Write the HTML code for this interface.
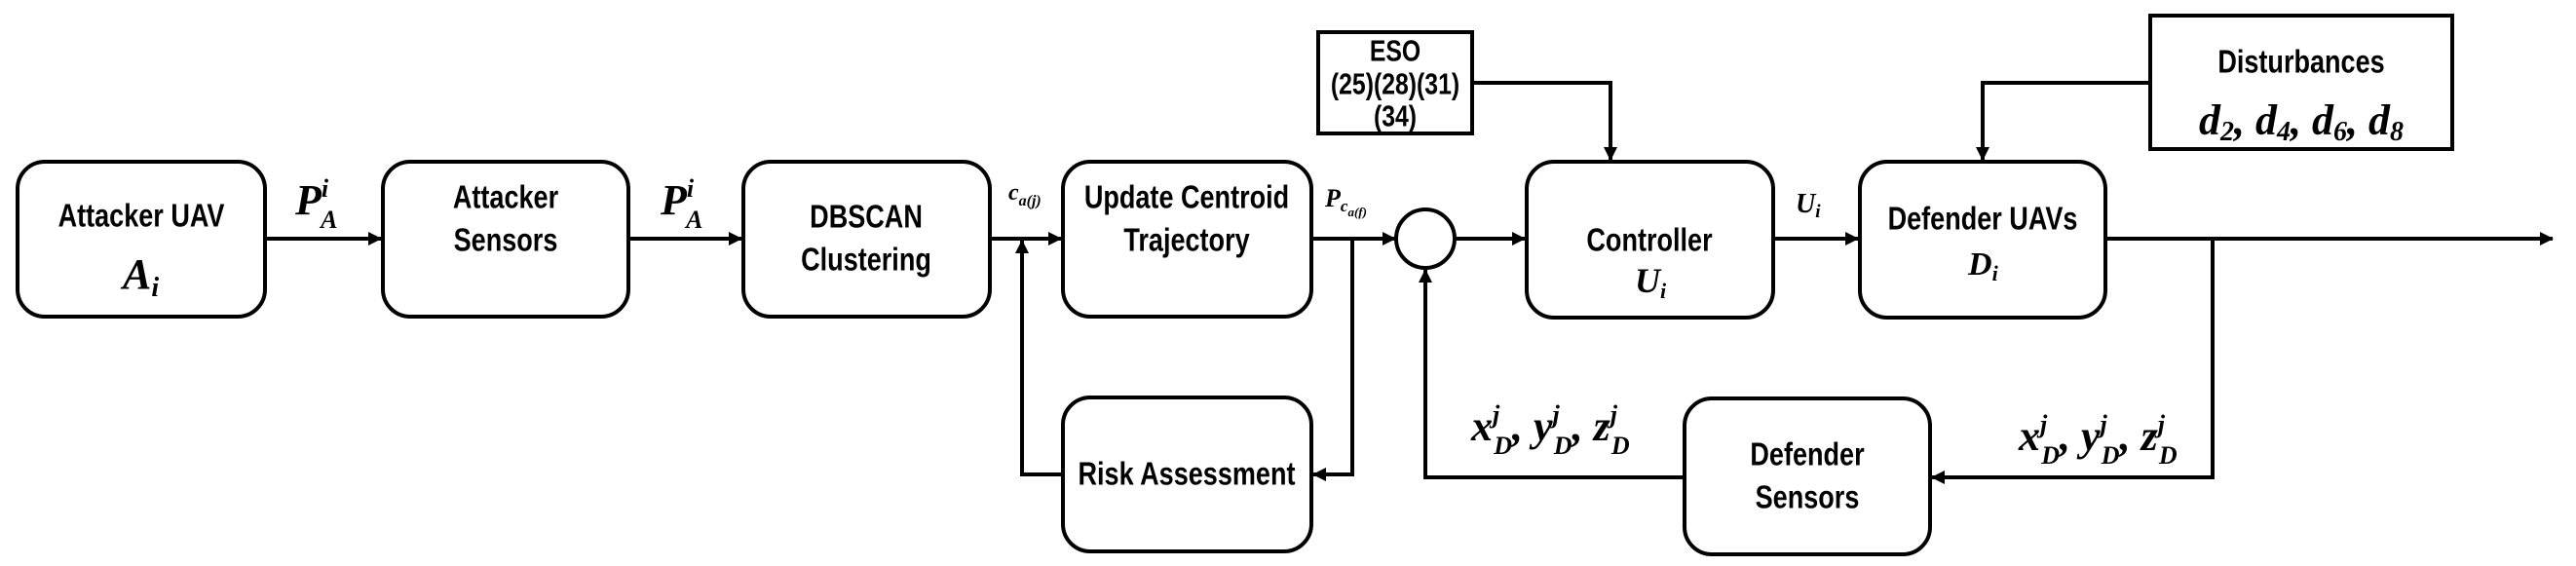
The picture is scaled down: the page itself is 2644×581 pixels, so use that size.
<!DOCTYPE html>
<html><head><meta charset="utf-8"><style>
html,body{margin:0;padding:0;background:#fff;}
svg{display:block}
.t{font-family:"Liberation Sans",sans-serif;font-weight:bold;font-size:33px;fill:#000;text-anchor:middle;dominant-baseline:central}
.e{font-size:31px}
.m{font-family:"Liberation Serif",serif;font-style:italic;font-weight:bold;fill:#000}
</style></head><body>
<svg width="2644" height="581" viewBox="0 0 2644 581" xmlns="http://www.w3.org/2000/svg">
<defs><marker id="a" markerWidth="14" markerHeight="14" refX="13" refY="7" orient="auto" markerUnits="userSpaceOnUse"><path d="M0,0 L14,7 L0,14 z" fill="#000"/></marker></defs>
<g fill="none" stroke="#000" stroke-width="4">
<rect x="18" y="166" width="254" height="159" rx="28"/>
<rect x="393" y="166" width="252" height="159" rx="28"/>
<rect x="763" y="166" width="253" height="159" rx="28"/>
<rect x="1091" y="166" width="255" height="159" rx="28"/>
<rect x="1091" y="408" width="255" height="158" rx="28"/>
<rect x="1567" y="166" width="253" height="160" rx="28"/>
<rect x="1909" y="166" width="252" height="160" rx="28"/>
<rect x="1729" y="409" width="252" height="160" rx="28"/>
<rect x="1353" y="33" width="158" height="104"/>
<rect x="2207" y="16" width="310" height="137"/>
<circle cx="1463" cy="245" r="30"/>
</g>
<g fill="none" stroke="#000" stroke-width="4">
<line x1="272" y1="245" x2="391" y2="245" marker-end="url(#a)"/>
<line x1="645" y1="245" x2="761" y2="245" marker-end="url(#a)"/>
<line x1="1016" y1="245" x2="1089" y2="245" marker-end="url(#a)"/>
<polyline points="1091,487 1049,487 1049,247" marker-end="url(#a)"/>
<line x1="1346" y1="245" x2="1432" y2="245" marker-end="url(#a)"/>
<polyline points="1388,245 1388,487 1348,487" marker-end="url(#a)"/>
<line x1="1493" y1="245" x2="1565" y2="245" marker-end="url(#a)"/>
<line x1="1820" y1="245" x2="1907" y2="245" marker-end="url(#a)"/>
<line x1="2161" y1="245" x2="2620" y2="245" marker-end="url(#a)"/>
<polyline points="1511,85 1653,85 1653,164" marker-end="url(#a)"/>
<polyline points="2207,85 2035,85 2035,164" marker-end="url(#a)"/>
<polyline points="2271,245 2271,490 1983,490" marker-end="url(#a)"/>
<polyline points="1729,490 1463,490 1463,277" marker-end="url(#a)"/>
</g>
<g transform="translate(145,222) scale(.82,1)"><text class="t">Attacker UAV</text></g>
<text class="m" x="126" y="296" font-size="44">A<tspan font-size="28" dy="8">i</tspan></text>
<g transform="translate(519,203) scale(.82,1)"><text class="t">Attacker</text></g>
<g transform="translate(519,247) scale(.82,1)"><text class="t">Sensors</text></g>
<g transform="translate(889,223) scale(.82,1)"><text class="t">DBSCAN</text></g>
<g transform="translate(889,267) scale(.82,1)"><text class="t">Clustering</text></g>
<g transform="translate(1218,203) scale(.82,1)"><text class="t">Update Centroid</text></g>
<g transform="translate(1218,247) scale(.82,1)"><text class="t">Trajectory</text></g>
<g transform="translate(1218,487) scale(.82,1)"><text class="t">Risk Assessment</text></g>
<g transform="translate(1693,247) scale(.82,1)"><text class="t">Controller</text></g>
<text class="m" x="1678" y="300" font-size="36">U<tspan font-size="22" dy="6">i</tspan></text>
<g transform="translate(2035,225) scale(.82,1)"><text class="t">Defender UAVs</text></g>
<text class="m" x="2020" y="282" font-size="34">D<tspan font-size="22" dy="6">i</tspan></text>
<g transform="translate(1855,467) scale(.82,1)"><text class="t">Defender</text></g>
<g transform="translate(1855,511) scale(.82,1)"><text class="t">Sensors</text></g>
<g transform="translate(1432,52) scale(.8,1)"><text class="t e">ESO</text></g>
<g transform="translate(1432,86) scale(.8,1)"><text class="t e">(25)(28)(31)</text></g>
<g transform="translate(1432,119) scale(.8,1)"><text class="t e">(34)</text></g>
<g transform="translate(2362,64) scale(.82,1)"><text class="t">Disturbances</text></g>
<text class="m" x="2362" y="138" font-size="44" text-anchor="middle">d<tspan font-size="28" dy="6">2</tspan><tspan dy="-6">, d</tspan><tspan font-size="28" dy="6">4</tspan><tspan dy="-6">, d</tspan><tspan font-size="28" dy="6">6</tspan><tspan dy="-6">, d</tspan><tspan font-size="28" dy="6">8</tspan></text>
<text class="m" x="303" y="220" font-size="44">P<tspan font-size="26" dy="-18">i</tspan><tspan font-size="26" dx="-8" dy="32">A</tspan></text>
<text class="m" x="678" y="220" font-size="44">P<tspan font-size="26" dy="-18">i</tspan><tspan font-size="26" dx="-8" dy="32">A</tspan></text>
<text class="m" x="1035" y="205" font-size="24" font-weight="normal">c<tspan font-size="16" dy="6">a(j)</tspan></text>
<text class="m" x="1360" y="212" font-size="26" font-weight="normal">P<tspan font-size="17" dy="5">c</tspan><tspan font-size="13" dy="5">a(f)</tspan></text>
<text class="m" x="1843" y="218" font-size="28">U<tspan font-size="19" dy="5">i</tspan></text>
<text class="m" x="1510" y="452" font-size="44">x<tspan font-size="26" dy="-18">j</tspan><tspan font-size="26" dx="-6" dy="32">D</tspan><tspan dy="-14">, y</tspan><tspan font-size="26" dy="-18">j</tspan><tspan font-size="26" dx="-6" dy="32">D</tspan><tspan dy="-14">, z</tspan><tspan font-size="26" dy="-18">j</tspan><tspan font-size="26" dx="-6" dy="32">D</tspan></text>
<text class="m" x="2072" y="462" font-size="44">x<tspan font-size="26" dy="-18">j</tspan><tspan font-size="26" dx="-6" dy="32">D</tspan><tspan dy="-14">, y</tspan><tspan font-size="26" dy="-18">j</tspan><tspan font-size="26" dx="-6" dy="32">D</tspan><tspan dy="-14">, z</tspan><tspan font-size="26" dy="-18">j</tspan><tspan font-size="26" dx="-6" dy="32">D</tspan></text>
</svg>
</body></html>
